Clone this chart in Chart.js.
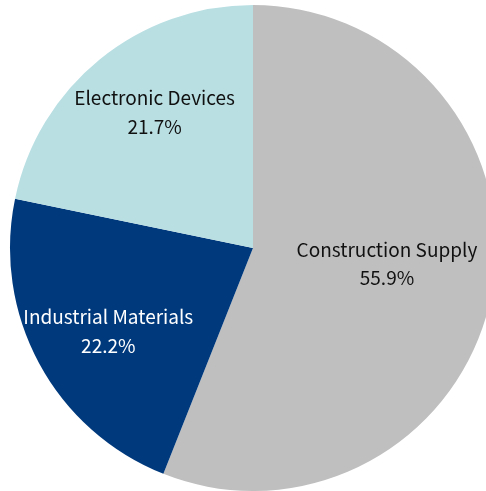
<!DOCTYPE html>
<html><head><meta charset="utf-8">
<script src="https://cdn.jsdelivr.net/npm/chart.js@4"></script>
<style>
html,body{margin:0;padding:0;background:#fff;overflow:hidden;width:486px;height:491px;}
#wrap{position:absolute;left:0;top:0;width:506px;height:491px;}
</style></head><body>
<div id="wrap"><canvas id="c"></canvas></div>
<script>
const categories = ["Construction Supply", "Industrial Materials", "Electronic Devices"];
const shares = [55.9, 22.2, 21.7];
const percentLabels = ["55.9%", "22.2%", "21.7%"];
const sliceColors = ["#bfbfbf", "#003a7d", "#b9dfe3"];
const labelColors = ["#111111", "#ffffff", "#111111"];
const labelRadiusFrac = [0.555, 0.687, 0.69];
const labelAngleFrac = [0.479, 0.48, 0.541];

const labelPlugin = {
  id: 'sliceLabels',
  afterDatasetsDraw(chart) {
    const ctx = chart.ctx;
    const meta = chart.getDatasetMeta(0);
    ctx.save();
    ctx.font = '19px "Noto Sans CJK JP", "DejaVu Sans", sans-serif';
    ctx.textAlign = 'center';
    ctx.textBaseline = 'middle';
    meta.data.forEach((arc, i) => {
      const p = arc.getProps(['x','y','startAngle','endAngle','outerRadius'], true);
      const a = p.startAngle + (p.endAngle - p.startAngle) * labelAngleFrac[i];
      const r = p.outerRadius * labelRadiusFrac[i];
      const cx = p.x + Math.cos(a) * r;
      const cy = p.y + Math.sin(a) * r;
      ctx.fillStyle = labelColors[i];
      ctx.fillText(categories[i], cx, cy - 14);
      ctx.fillText(percentLabels[i], cx, cy + 14.5);
    });
    ctx.restore();
  }
};

new Chart(document.getElementById('c'), {
  type: 'pie',
  data: {
    labels: categories,
    datasets: [{ data: shares, backgroundColor: sliceColors, borderWidth: 0 }]
  },
  options: {
    responsive: true,
    maintainAspectRatio: false,
    animation: false,
    layout: { padding: { top: 5, bottom: 0, left: 0, right: 0 } },
    plugins: { legend: { display: false }, tooltip: { enabled: false } }
  },
  plugins: [labelPlugin]
});
</script>
</body></html>
